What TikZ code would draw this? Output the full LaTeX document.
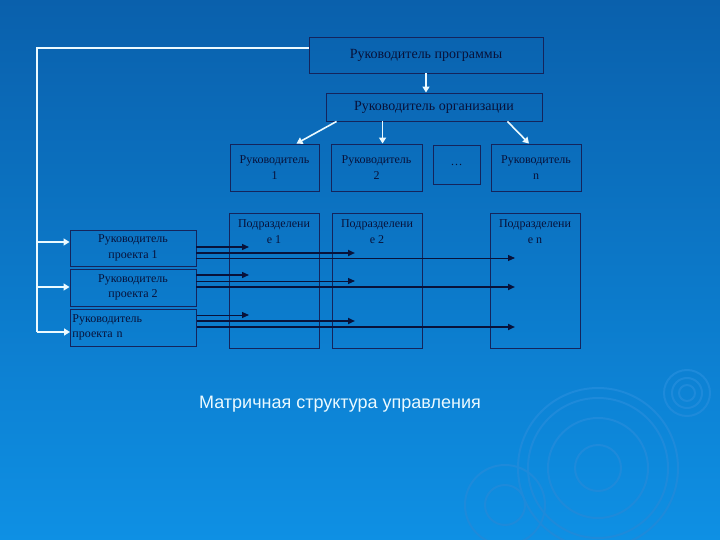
\documentclass[tikz,border=0pt]{standalone}
\usepackage{fontspec}
\setmainfont{Liberation Serif}
\newfontfamily\capfont{Liberation Sans}
\usetikzlibrary{arrows.meta,calc}
\definecolor{bgtop}{RGB}{10,96,172}
\definecolor{bgbot}{RGB}{14,144,228}
\definecolor{ink}{RGB}{8,18,58}
\definecolor{edge}{RGB}{20,36,92}
\definecolor{wline}{RGB}{235,250,255}
\definecolor{ripc}{RGB}{30,138,218}
\tikzset{
  box/.style={draw=edge, line width=0.9pt, inner sep=1pt, align=center,
    text=ink, font=\fontsize{12}{15.5}\selectfont},
  bigbox/.style={box, font=\fontsize{14}{16}\selectfont},
  colbox/.style={draw=edge, line width=0.9pt, inner sep=0pt},
  wconn/.style={draw=wline, line width=1.6pt, -{Triangle[width=7pt,length=6pt]}},
  wline/.style={draw=wline, line width=1.6pt},
  darr/.style={draw=ink, -{Triangle[width=6pt,length=7pt]}},
  ripple/.style={draw=ripc, line width=2pt}
}
\begin{document}
\begin{tikzpicture}[x=1pt,y=-1pt]
\useasboundingbox (0,0) rectangle (720,540);
\shade[top color=bgtop, bottom color=bgbot] (0,0) rectangle (720,540);
% ripples
\foreach \r in {8,15,23} \draw[ripple] (687,393) circle (\r);
\foreach \r in {23,50,70,80} \draw[ripple] (598,468) circle (\r);
\foreach \r in {20,40} \draw[ripple] (505,505) circle (\r);

% top boxes
\node[bigbox, minimum width=234, minimum height=36] (top) at (426,55) {Руководитель программы};
\node[bigbox, minimum width=216, minimum height=28] (org) at (434,107) {Руководитель организации};
% managers
\node[box, minimum width=89, minimum height=47] (m1) at (274.5,167.5) {Руководитель\\1};
\node[box, minimum width=91, minimum height=47] (m2) at (376.5,167.5) {Руководитель\\2};
\node[box, minimum width=47, minimum height=39] (md) at (456.5,164.5) {\dots};
\node[box, minimum width=90, minimum height=47] (mn) at (536,167.5) {Руководитель\\n};
% columns
\node[colbox, minimum width=90, minimum height=135] (c1) at (274,280.5) {};
\node[colbox, minimum width=90, minimum height=135] (c2) at (377,280.5) {};
\node[colbox, minimum width=90, minimum height=135] (cn) at (535,280.5) {};
\node[box, draw=none, anchor=north] (c1t) at ($(c1.north)+(0,6)$) {Подразделени\\е 1};
\node[box, draw=none, anchor=north] (c2t) at ($(c2.north)+(0,6)$) {Подразделени\\е 2};
\node[box, draw=none, anchor=north] (cnt) at ($(cn.north)+(0,6)$) {Подразделени\\е n};
% projects
\node[box, minimum width=126, minimum height=36] (p1) at (133,248) {Руководитель\\проекта 1};
\node[box, minimum width=126, minimum height=37] (p2) at (133,287.5) {Руководитель\\проекта 2};
\node[box, minimum width=126, minimum height=37, align=left, anchor=west, text width=122] (p3) at (70,327.5) {Руководитель\\проекта n};

% white connectors
\coordinate (o1) at ($(org.south west)+(11,0)$);
\coordinate (o2) at ($(org.south west)+(57,0)$);
\coordinate (o3) at ($(org.south east)+(-35,0)$);
\draw[wconn] (top.south) -- (top.south |- org.north);
\draw[wconn] (o1) -- ($(m1.north)+(22,0)$);
\draw[wconn] (o2) -- (o2 |- m2.north);
\draw[wconn] (o3) -- ($(mn.north)+(-7,0)$);
\coordinate (corner) at (37,48);
\draw[wline] (top.west |- corner) -- (corner) -- (37,332);
\draw[wconn] (corner |- 0,242) -- (p1.west |- 0,242);
\draw[wconn] (corner |- 0,287) -- (p2.west |- 0,287);
\draw[wconn] (corner |- 0,332) -- (p3.west |- 0,332);

% dark arrows
\coordinate (t1) at (249,0);
\coordinate (t2) at (355,0);
\coordinate (tn) at (515,0);
\draw[darr, line width=1.3pt] (p1.east |- 0,247) -- (t1 |- 0,247);
\draw[darr, line width=2.2pt] (p1.east |- 0,253) -- (t2 |- 0,253);
\draw[darr, line width=0.9pt] (p1.east |- 0,258) -- (tn |- 0,258);
\draw[darr, line width=1.3pt] (p2.east |- 0,275) -- (t1 |- 0,275);
\draw[darr, line width=1.0pt] (p2.east |- 0,281) -- (t2 |- 0,281);
\draw[darr, line width=2.2pt] (p2.east |- 0,287) -- (tn |- 0,287);
\draw[darr, line width=1.0pt] (p3.east |- 0,315) -- (t1 |- 0,315);
\draw[darr, line width=2.0pt] (p3.east |- 0,321) -- (t2 |- 0,321);
\draw[darr, line width=2.4pt] (p3.east |- 0,327) -- (tn |- 0,327);

% caption
\node[text=wline, font=\capfont\fontsize{18}{20}\selectfont] (cap) at (340,404) {Матричная структура управления};
\end{tikzpicture}
\end{document}
